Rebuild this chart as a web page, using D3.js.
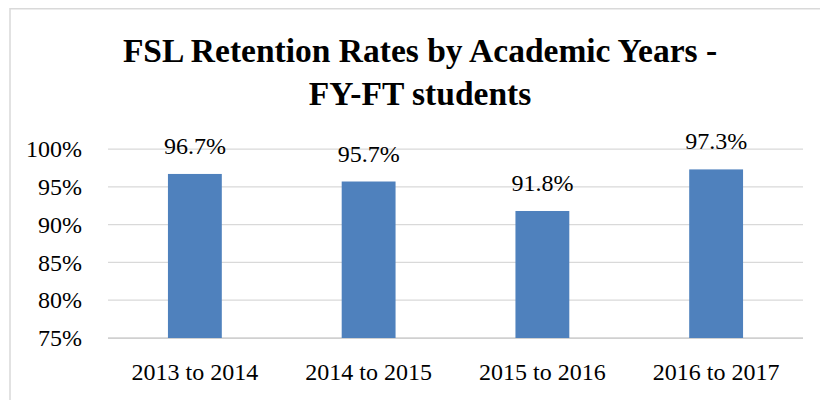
<!DOCTYPE html>
<html>
<head>
<meta charset="utf-8">
<script src="https://cdn.jsdelivr.net/npm/d3@7"></script>
<style>
  body { margin: 0; background: #fff; }
  svg { display: block; }
</style>
</head>
<body>
<div id="chart"></div>
<script>
// Chart data
const years = ["2013 to 2014", "2014 to 2015", "2015 to 2016", "2016 to 2017"];
const rates = [96.7, 95.7, 91.8, 97.3];
const ticks = [75, 80, 85, 90, 95, 100];
const titleLines = ["FSL Retention Rates by Academic Years -", "FY-FT students"];

const W = 820, H = 400;
const margin = {top: 149, right: 17, bottom: 62, left: 108};
const width = W - margin.left - margin.right,
      height = H - margin.top - margin.bottom;

const font = "\"Liberation Serif\"";

const svg = d3.select("#chart")
  .append("svg")
    .attr("width", W)
    .attr("height", H);

// Outer chart border (runs off the right and bottom edges)
svg.append("rect")
  .attr("x", 10)
  .attr("y", 8.75)
  .attr("width", W)
  .attr("height", H)
  .style("fill", "none")
  .style("stroke", "#d9d9d9")
  .style("stroke-width", 1.5);

// Title
svg.append("g")
  .selectAll("text")
  .data(titleLines)
  .enter()
  .append("text")
    .attr("x", 420)
    .attr("y", (d, i) => 62 + i * 43)
    .attr("text-anchor", "middle")
    .style("font-family", font)
    .style("font-weight", "bold")
    .style("font-size", "33.5px")
    .style("fill", "#000")
    .text(d => d);

const g = svg.append("g")
  .attr("transform", `translate(${margin.left},${margin.top})`);

const x = d3.scaleBand()
  .domain(years)
  .range([0, width])
  .paddingInner(0.69)
  .paddingOuter(0.345);

const y = d3.scaleLinear()
  .domain([75, 100])
  .range([height, 0]);

// Gridlines
g.selectAll(".grid")
  .data(ticks)
  .enter()
  .append("line")
    .attr("class", "grid")
    .attr("x1", 0)
    .attr("x2", width)
    .attr("y1", d => y(d))
    .attr("y2", d => y(d))
    .style("stroke", d => d === 75 ? "#d0d0d0" : "#d9d9d9")
    .style("stroke-width", d => d === 75 ? 1.75 : 1.25);

// Y axis labels
const yAxis = g.append("g")
  .call(d3.axisLeft(y).tickValues(ticks).tickFormat(d => d + "%").tickSize(0).tickPadding(26));
yAxis.select(".domain").remove();
yAxis.selectAll("text")
  .style("font-family", font)
  .style("font-size", "24px")
  .style("fill", "#000");

// X axis labels
const xAxis = g.append("g")
  .attr("transform", `translate(0,${height})`)
  .call(d3.axisBottom(x).tickSize(0).tickPadding(25));
xAxis.select(".domain").remove();
xAxis.selectAll("text")
  .style("font-family", font)
  .style("font-size", "24px")
  .style("fill", "#000");

// Bars
g.selectAll(".bar")
  .data(rates)
  .enter()
  .append("rect")
    .attr("class", "bar")
    .attr("x", (d, i) => x(years[i]))
    .attr("y", d => y(d))
    .attr("width", x.bandwidth())
    .attr("height", d => height - y(d))
    .style("fill", "#4f81bd");

// Value labels
g.selectAll(".value")
  .data(rates)
  .enter()
  .append("text")
    .attr("class", "value")
    .attr("x", (d, i) => x(years[i]) + x.bandwidth() / 2)
    .attr("y", d => y(d) - 20)
    .attr("text-anchor", "middle")
    .style("font-family", font)
    .style("font-size", "24px")
    .style("fill", "#000")
    .text(d => d.toFixed(1) + "%");
</script>
</body>
</html>
